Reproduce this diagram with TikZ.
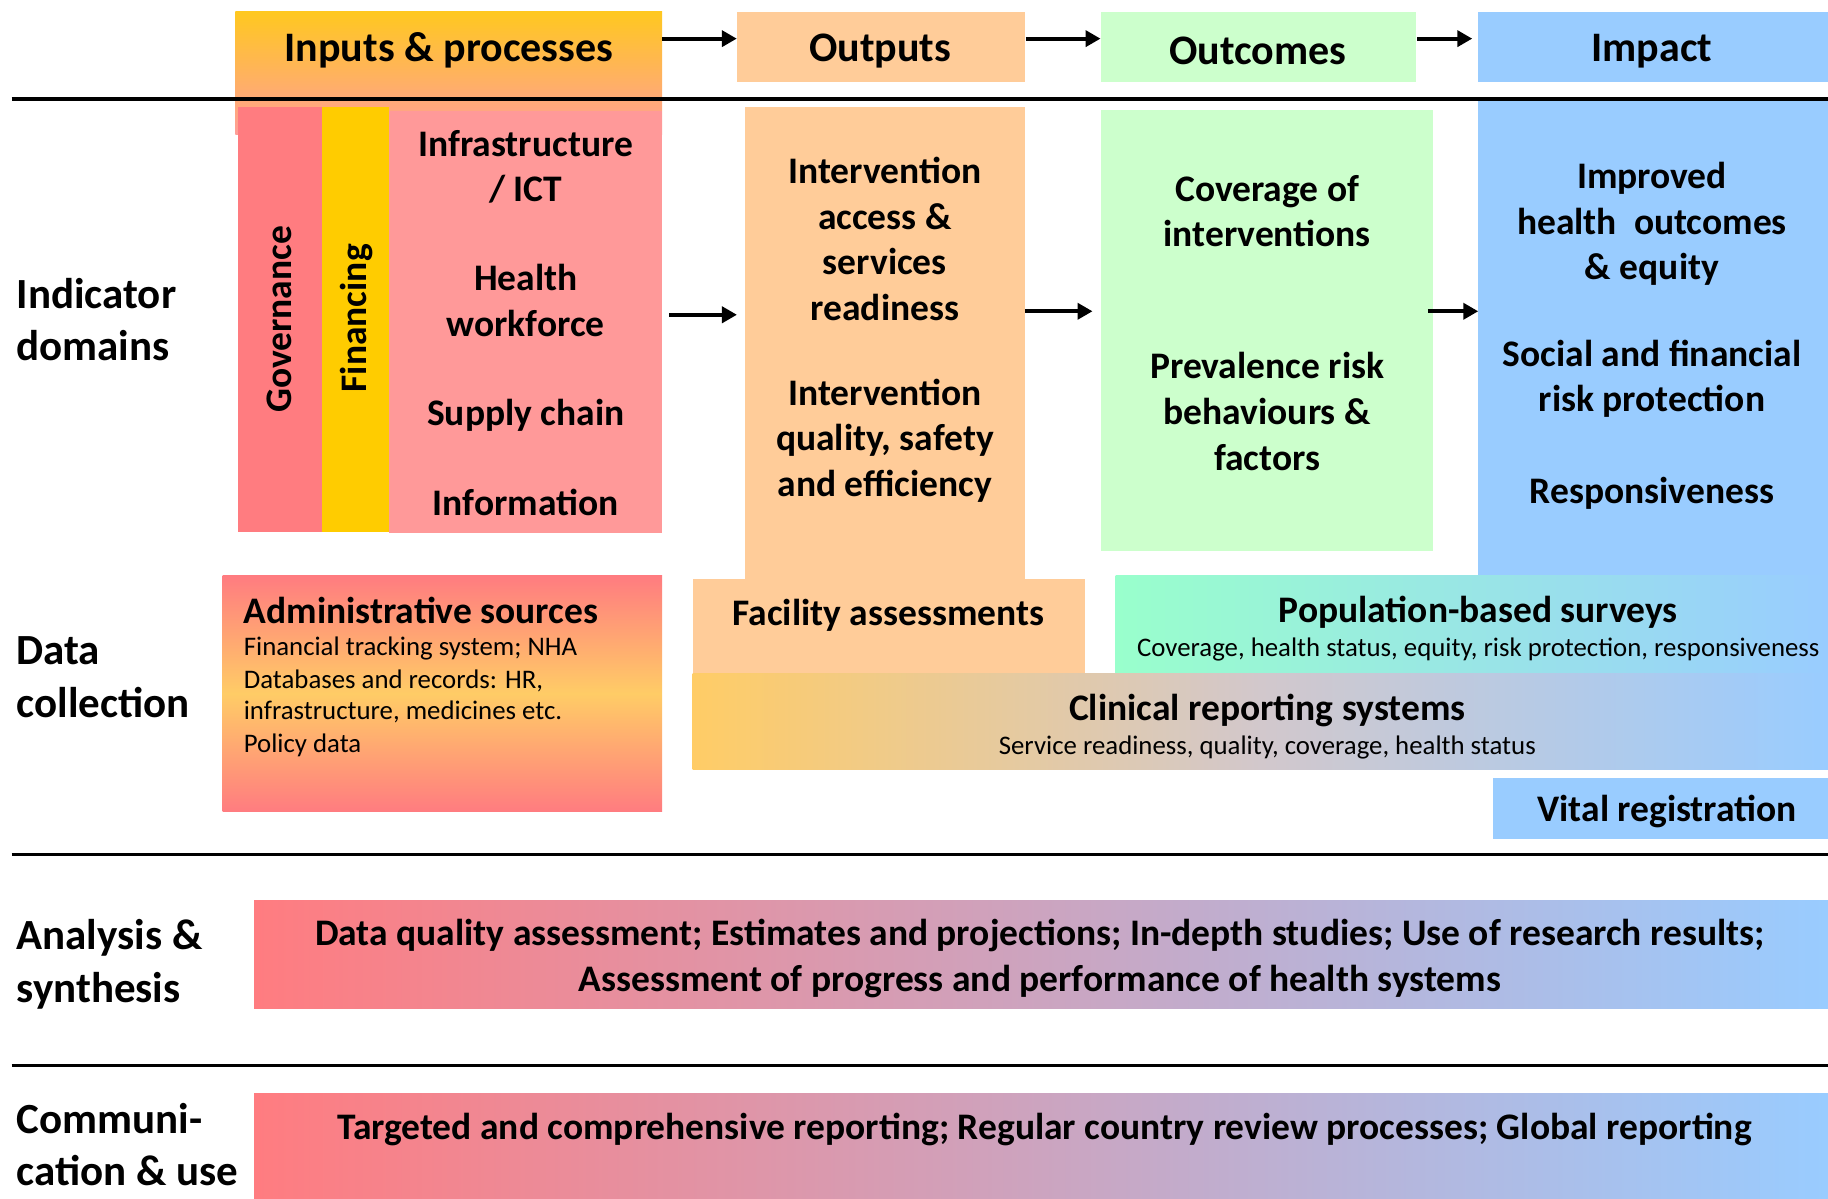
\documentclass[tikz,border=0pt]{standalone}
\usepackage{fontspec}
\setmainfont{Carlito}
\usetikzlibrary{fit,arrows.meta}
\definecolor{cgov}{HTML}{FF7C80}
\definecolor{cfin}{HTML}{FFCC00}
\definecolor{cinf}{HTML}{FF9999}
\definecolor{cout}{HTML}{FFCC99}
\definecolor{cocm}{HTML}{CCFFCC}
\definecolor{cimp}{HTML}{99CCFF}
\definecolor{cmint}{HTML}{99FFCC}
\definecolor{corg}{HTML}{FFCC66}
\definecolor{chtop}{HTML}{FFC820}
\definecolor{chbot}{HTML}{FF9E98}
\definecolor{cclmid}{HTML}{D2C8CC}
\begin{document}
\begin{tikzpicture}[x=1.1658pt,y=-1.1658pt,
  box/.style={inner sep=0pt,outer sep=0pt,draw=none},
  hdr/.style={font=\fontsize{42}{51}\selectfont\bfseries,inner sep=0pt},
  body/.style={font=\fontsize{37.5}{45.7}\selectfont\bfseries,align=center,inner sep=0pt},
  small/.style={font=\fontsize{26.8}{32.5}\selectfont,inner sep=0pt,anchor=west},
  side/.style={font=\fontsize{43}{52.4}\selectfont\bfseries,align=left,anchor=west,inner sep=0pt},
  sepline/.style={line width=3.5pt},
  arr/.style={line width=4.2pt,-{Triangle[length=15pt,width=16pt]}},
]
\useasboundingbox (0,0) rectangle (1568,1028);
% ---------- header row ----------
\node[box,fit={(202,10) (568,115)},top color=chtop,bottom color=chbot] (hinbg) {};
\node[box,fit={(202,10) (568,70)}] (hin) {};
\node[box,fit={(632,10) (879,70)},fill=cout] (hout) {};
\node[box,fit={(944,10) (1215,70)},fill=cocm] (hocm) {};
\node[box,fit={(1268,10) (1568,70)},fill=cimp] (himp) {};
\node[hdr] (thin) at (385,43.5) {Inputs \& processes};
\node[hdr] (thout) at (755,43.5) {Outputs};
\node[hdr] (thocm) at (1079,43.5) {Outcomes};
\node[hdr] (thimp) at (1417,43.5) {Impact};
\draw[arr] ([yshift=8pt]hin.east) -- ([yshift=8pt]hout.west);
\draw[arr,shorten <=1pt] ([yshift=8pt]hout.east) -- ([yshift=8pt]hocm.west);
\draw[arr,shorten <=1pt,shorten >=6pt] ([yshift=8pt]hocm.east) -- ([yshift=8pt]himp.west);
% ---------- indicator domains ----------
\node[box,fit={(1268,85) (1568,500)},fill=cimp] (icol) {};
\draw[sepline] (10,85) -- (1568,85);
\node[box,fit={(204,92) (276,456)},fill=cgov] (gov) {};
\node[box,fit={(276,92) (334,456)},fill=cfin] (fin) {};
\node[box,fit={(334,95) (568,457)},fill=cinf] (infra) {};
\node[body,rotate=90] (tgov) at (240,274) {Governance};
\node[body,rotate=90] (tfin) at (306,273) {Financing};
\node[body] (t1) at (451,143) {Infrastructure\\/ ICT};
\node[body] (t2) at (451,258) {Health\\workforce};
\node[body] (t3) at (451,356) {Supply chain};
\node[body] (t4) at (451,431) {Information};
\node[box,fit={(639,92) (879,500)},fill=cout] (ocol) {};
\node[body] (t5) at (759,205) {Intervention\\access \&\\services\\readiness};
\node[body] (t6) at (759,378) {Intervention\\quality, safety\\and efficiency};
\node[box,fit={(944,94) (1229,473)},fill=cocm] (ucol) {};
\node[body] (t7) at (1087,181) {Coverage of\\interventions};
\node[body] (t8) at (1087,353) {Prevalence risk\\behaviours \&\\factors};
\node[body] (t9) at (1417,192) {Improved\\health\ \ outcomes\\\& equity};
\node[body] (t10) at (1417,325) {Social and financial\\risk protection};
\node[body] (t11) at (1417,423) {Responsiveness};
\coordinate (r1) at (0,270);
\coordinate (r2) at (0,267);
\draw[arr,shorten <=7pt,shorten >=8pt] (infra.east |- r1) -- (ocol.west |- r1);
\draw[arr,shorten >=8pt] (ocol.east |- r2) -- (ucol.west |- r2);
\draw[arr,shorten <=-5pt] (ucol.east |- r2) -- (icol.west |- r2);
\node[side] (lind) at (14,274) {Indicator\\domains};
% ---------- data collection ----------
\node[box,fit={(191,494) (568,696)},top color=cgov,bottom color=cgov,middle color=corg] (adm) {};
\node[body,anchor=west] (tadm) at (209,524) {Administrative sources};
\node[small] (sa1) at (209,556) {Financial tracking system; NHA};
\node[small] (sa2) at (209,584) {Databases and records: HR,};
\node[small] (sa3) at (209,611) {infrastructure, medicines etc.};
\node[small] (sa4) at (209,639) {Policy data};
\node[box,fit={(594,497) (931,579)},fill=cout] (fac) {};
\node[body] (tfac) at (762,528) {Facility assessments};
\node[box,fit={(957,494) (1568,578)},left color=cmint,right color=cimp] (pop) {};
\node[body] (tpop) at (1268,525) {Population-based surveys};
\node[small,anchor=center] (spop) at (1268,557) {Coverage, health status, equity, risk protection, responsiveness};
\node[box,fit={(594,578) (1568,660)},left color=corg,right color=cimp,middle color=cclmid] (clin) {};
\node[body] (tclin) at (1087,609) {Clinical reporting systems};
\node[small,anchor=center] (sclin) at (1087,641) {Service readiness, quality, coverage, health status};
\node[box,fit={(1281,667) (1568,720)},fill=cimp] (vital) {};
\node[body] (tvital) at (1430,696) {Vital registration};
\node[side] (ldat) at (14,581) {Data\\collection};
\draw[sepline] (10,733) -- (1568,733);
% ---------- analysis ----------
\node[box,fit={(218,772) (1568,865)},left color=cgov,right color=cimp] (ana) {};
\node[body] (tana) at (892,822) {Data quality assessment; Estimates and projections; In-depth studies; Use of research results;\\Assessment of progress and performance of health systems};
\node[side] (lana) at (14,827) {Analysis \&\\synthesis};
\draw[sepline] (10,914) -- (1568,914);
% ---------- communication ----------
\node[box,fit={(218,938) (1568,1028)},left color=cgov,right color=cimp] (com) {};
\node[body] (tcom) at (896,969) {Targeted and comprehensive reporting; Regular country review processes; Global reporting};
\node[side] (lcom) at (14,982) {Communi-\\cation \& use};
\end{tikzpicture}
\end{document}
